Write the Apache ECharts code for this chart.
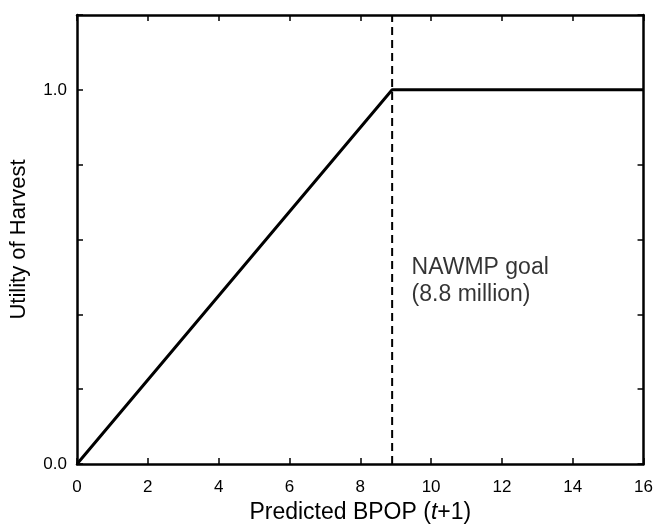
<!DOCTYPE html>
<html>
<head>
<meta charset="utf-8">
<script src="https://cdn.jsdelivr.net/npm/echarts@6/dist/echarts.min.js"></script>
<style>
html,body{margin:0;padding:0;background:#fff;}
#c{width:656px;height:529px;}
</style>
</head>
<body>
<div id="c"></div>
<script>
// Data
const utilityX = [0, 8.9, 16];
const utilityY = [0, 1.0, 1.0];
const goalX = 8.9;
const xTicks = [0, 2, 4, 6, 8, 10, 12, 14, 16];
const yTickLabels = ['0.0', '1.0'];
const annotationText = ['NAWMP goal', '(8.8 million)'];
const annotationAt = [9.45, 0.49];

const FONT = '"Liberation Sans", Arial, Helvetica, sans-serif';
const chart = echarts.init(document.getElementById('c'));

const lineData = utilityX.map((x, i) => [x, utilityY[i]]);

const axisCommon = {
  axisLine: { show: true, onZero: false, lineStyle: { color: '#000', width: 2.5 } },
  axisTick: { show: true, inside: true, length: 6, lineStyle: { color: '#000', width: 1.5 } },
  splitLine: { show: false }
};

chart.setOption({
  animation: false,
  backgroundColor: '#fff',
  grid: { left: 77, right: 10, top: 15, bottom: 65, containLabel: false },
  xAxis: [
    Object.assign({}, axisCommon, {
      type: 'value', min: 0, max: 16, interval: 2, position: 'bottom',
      axisLabel: { color: '#000', fontSize: 17, fontFamily: FONT, margin: 15 },
      name: '{n|Predicted BPOP (}{i|t}{n|+1)}',
      nameLocation: 'middle', nameGap: 37,
      nameTextStyle: {
        rich: {
          n: { fontSize: 23, fontFamily: FONT, color: '#000' },
          i: { fontSize: 23, fontFamily: FONT, color: '#000', fontStyle: 'italic' }
        }
      }
    }),
    Object.assign({}, axisCommon, {
      type: 'value', min: 0, max: 16, interval: 2, position: 'top',
      axisLabel: { show: false }
    })
  ],
  yAxis: [
    Object.assign({}, axisCommon, {
      type: 'value', min: 0, max: 1.2, interval: 0.2, position: 'left',
      axisLabel: {
        color: '#000', fontSize: 17, fontFamily: FONT, margin: 10,
        formatter: v => {
          const s = v.toFixed(1);
          return yTickLabels.indexOf(s) >= 0 ? s : '';
        }
      },
      name: 'Utility of Harvest', nameLocation: 'middle', nameGap: 47,
      nameTextStyle: { fontSize: 22, fontFamily: FONT, color: '#000' }
    }),
    Object.assign({}, axisCommon, {
      type: 'value', min: 0, max: 1.2, interval: 0.2, position: 'right',
      axisLabel: { show: false }
    })
  ],
  series: [
    {
      type: 'line', data: lineData, symbol: 'none',
      lineStyle: { color: '#000', width: 3 }
    },
    {
      type: 'line', data: [[goalX, 0], [goalX, 1.2]], symbol: 'none',
      lineStyle: { color: '#000', width: 2, type: [8, 5] }
    },
    {
      type: 'scatter', data: [annotationAt], symbolSize: 0,
      label: {
        show: true, position: 'right', distance: 0,
        formatter: annotationText.join('\n'),
        color: '#000', fontSize: 23, fontFamily: FONT, lineHeight: 27, align: 'left'
      }
    }
  ]
});
</script>
</body>
</html>
